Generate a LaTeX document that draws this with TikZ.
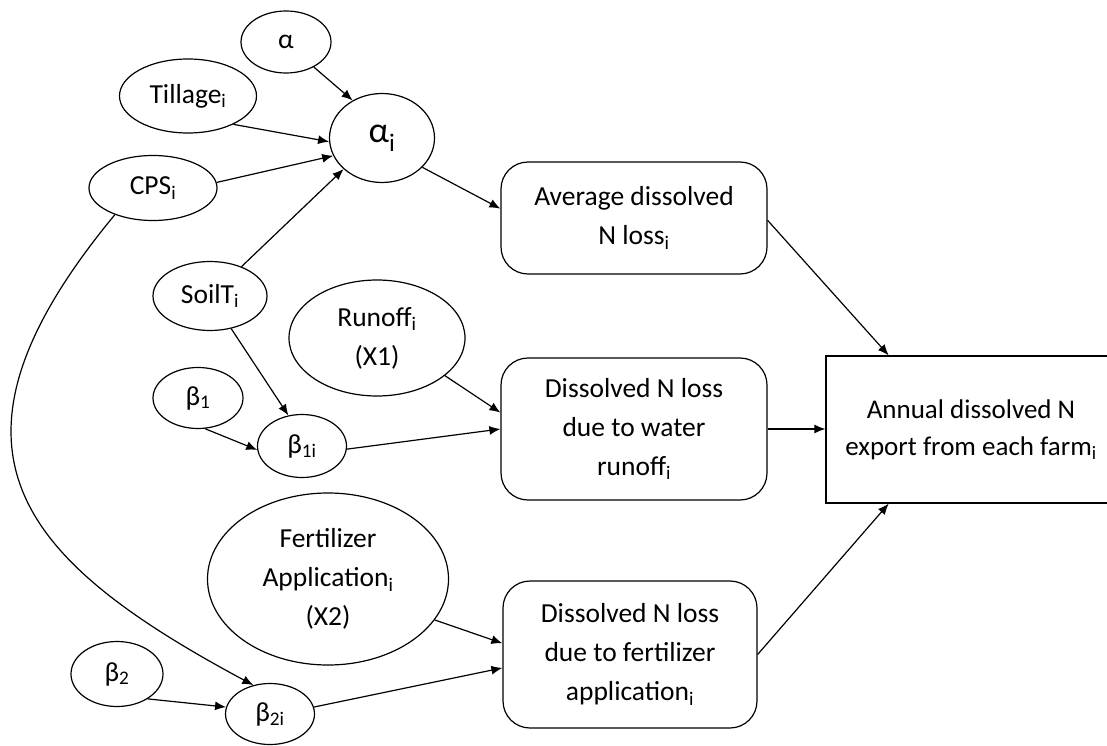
\documentclass[tikz,border=0pt]{standalone}
\usepackage{fontspec}
\setmainfont{Carlito}
\usetikzlibrary{arrows.meta,shapes.geometric}
\tikzset{
  ell/.style={ellipse, draw, line width=1.2pt, inner sep=0pt, align=center,
    font=\fontsize{27.5}{39}\selectfont},
  rbox/.style={rectangle, rounded corners=27pt, draw, line width=1.2pt, inner sep=0pt,
    align=center, font=\fontsize{27.5}{39}\selectfont},
  sbox/.style={rectangle, draw, line width=1.2pt, inner sep=0pt,
    align=center, font=\fontsize{27}{37}\selectfont},
  arr/.style={-{Latex[length=11pt,width=9pt]}, line width=1.2pt},
}
\newcommand{\sbi}[1]{\textsubscript{#1}}
\begin{document}
\begin{tikzpicture}[x=1pt,y=-1pt]
\clip (0,0) rectangle (1107,746);
% ellipses
\node[ell, minimum width=90, minimum height=62] (alpha) at (286,42) {α};
\node[ell, minimum width=137, minimum height=74] (tillage) at (188,96) {Tillage\sbi{i}};
\node[ell, minimum width=105, minimum height=89, font=\fontsize{36}{40}\selectfont] (alphai) at (382,138) {α\sbi{i}};
\node[ell, minimum width=128, minimum height=65] (cps) at (153,188) {CPS\sbi{i}};
\node[ell, minimum width=114, minimum height=69] (soilt) at (210,296) {SoilT\sbi{i}};
\node[ell, minimum width=176, minimum height=116] (runoff) at (377,338) {Runoff\sbi{i}\\(X1)};
\node[ell, minimum width=90, minimum height=61] (b1) at (198,398) {β\sbi{1}};
\node[ell, minimum width=89, minimum height=63] (b1i) at (302,446) {β\sbi{1i}};
\node[ell, minimum width=241, minimum height=172] (fert) at (328,579) {Fertilizer\\Application\sbi{i}\\(X2)};
\node[ell, minimum width=92, minimum height=65] (b2) at (117,674) {β\sbi{2}};
\node[ell, minimum width=89, minimum height=61] (b2i) at (270,714) {β\sbi{2i}};
% boxes
\node[rbox, minimum width=266, minimum height=112] (avg) at (634,218) {Average dissolved\\N loss\sbi{i}};
\node[rbox, minimum width=266, minimum height=142] (water) at (634,429) {Dissolved N loss\\due to water\\runoff\sbi{i}};
\node[rbox, minimum width=254, minimum height=147] (fbox) at (630,654.5) {Dissolved N loss\\due to fertilizer\\application\sbi{i}};
\node[sbox, minimum width=290, minimum height=147] (annual) at (971,429.5) {Annual dissolved N\\export from each farm\sbi{i}};
% connectors
\draw[arr] (alpha.-42) -- (alphai.128);
\draw[arr] (tillage.-32) -- (alphai.184);
\draw[arr] (cps.5) -- (alphai.200);
\draw[arr] (soilt.43) -- (alphai.219);
\draw[arr] (alphai.-36) -- (avg.176);
\draw[arr] (soilt.-57) -- (b1i.114);
\draw[arr] (b1.-77) -- (b1i.185);
\draw[arr] (b1i.-4) -- (water.west);
\draw[arr] (runoff.-29) -- (water.173);
\draw[arr] (fert.-21) -- (fbox.175);
\draw[arr] (b2i.9) -- (fbox.186);
\draw[arr] (b2.-39) -- (b2i.171);
\draw[arr] (cps.215) .. controls (-80,450) and (20,560) .. (b2i.120);
\draw[arr] (avg.-1) -- (annual.138.5);
\draw[arr] (water.east) -- (water.east -| annual.west);
\draw[arr] (fbox.east) -- (annual.222);
\end{tikzpicture}
\end{document}
